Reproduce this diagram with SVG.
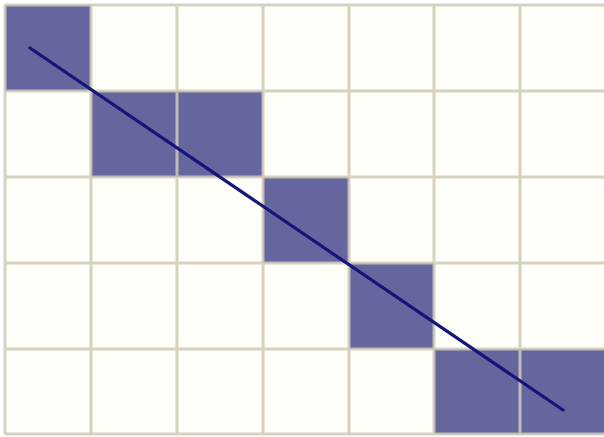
<svg xmlns="http://www.w3.org/2000/svg" width="604" height="437" viewBox="0 0 604 437">
<style>
.cell{fill:#66669e}
.grid{stroke:#cfc9b8;stroke-width:3;fill:none;opacity:0.85}
.ln{stroke:#15157a;stroke-width:3.2;stroke-linecap:round}
</style>
<rect width="604" height="437" fill="#ffffff"/>
<rect x="5" y="5" width="600" height="429" fill="#fffffa"/>
<g id="cells">
<rect class="cell" x="5" y="5" width="86" height="86"/>
<rect class="cell" x="91" y="91" width="86" height="86"/>
<rect class="cell" x="177" y="91" width="86" height="86"/>
<rect class="cell" x="263" y="177" width="86" height="86"/>
<rect class="cell" x="349" y="263" width="85" height="86"/>
<rect class="cell" x="434" y="349" width="86" height="85"/>
<rect class="cell" x="520" y="349" width="85" height="85"/>
</g>
<g id="grid" class="grid">
<path d="M5 5V434M91 5V434M177 5V434M263 5V434M349 5V434M434 5V434M520 5V434"/>
<path d="M5 5H604M5 91H604M5 177H604M5 263H604M5 349H604M5 434H604"/>
</g>
<g id="connectors">
<line class="ln" x1="30" y1="48" x2="563" y2="410"/>
</g>
</svg>
